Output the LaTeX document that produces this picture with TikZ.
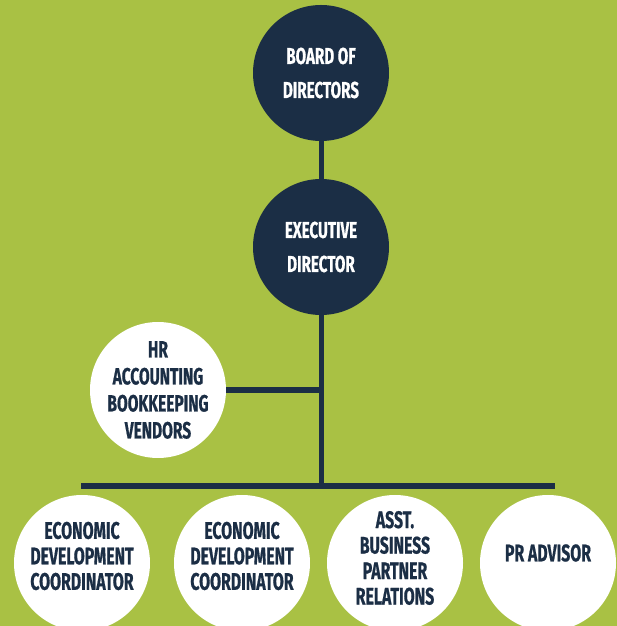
\documentclass[tikz,border=0pt]{standalone}
\usepackage{fontspec}
\usepackage{tikz}
\usetikzlibrary{positioning}
\newfontfamily\orgfont{Fira Sans}[FakeStretch=0.66,FakeBold=0.6]
\definecolor{navy}{HTML}{1B2E45}
\definecolor{leaf}{HTML}{A9C144}
\tikzset{
    boss/.style={
           circle,
           fill=navy,
           text=white,
           minimum size=136pt,
           inner sep=0pt,
           align=center,
           font=\orgfont\bfseries\fontsize{23}{34}\selectfont,
           },
    staff/.style={
           circle,
           fill=white,
           minimum size=136pt,
           inner sep=0pt,
           },
    staffname/.style={
           text=navy,
           align=center,
           inner sep=0pt,
           font=\orgfont\bfseries\fontsize{24}{25.5}\selectfont,
           },
    link/.style={
           draw=navy,
           line width=5pt,
           },
}

\begin{document}
\begin{tikzpicture}[x=1pt,y=1pt]
    % green page
    \fill[leaf] (0,0) rectangle (617,626);
    \useasboundingbox (0,0) rectangle (617,626);
    \clip (0,0) rectangle (617,626);

    % top of the chart
    \node[boss] (board) at (321,553) {BOARD OF\\DIRECTORS};

    \node[boss,         % layout (defined above)
    below of=board,
    node distance=174pt] (exec)
    {EXECUTIVE\\DIRECTOR};

    % side office
    \node[staff] (hr) at (158,236) {};
    \node[staffname,
    font=\orgfont\bfseries\fontsize{23.5}{27}\selectfont] (hr-txt) at (hr)
    {HR\\ACCOUNTING\\BOOKKEEPING\\VENDORS};

    % bottom row, cut off by the page edge
    \node[staff] (eco1) at (82,63) {};
    \node[staff, right of=eco1, node distance=160pt] (eco2) {};
    \node[staff, right of=eco2, node distance=153pt] (asst) {};
    \node[staff, right of=asst, node distance=153pt] (pr) {};

    \node[staffname] (eco1-txt) at ([yshift=7pt]eco1.center)
    {ECONOMIC\\DEVELOPMENT\\COORDINATOR};
    \node[staffname] (eco2-txt) at ([yshift=7pt]eco2.center)
    {ECONOMIC\\DEVELOPMENT\\COORDINATOR};
    \node[staffname] (asst-txt) at ([yshift=5pt]asst.center)
    {ASST.\\BUSINESS\\PARTNER\\RELATIONS};
    \node[staffname] (pr-txt) at ([yshift=10pt]pr.center)
    {PR ADVISOR};

    % the lines between them
    \coordinate (busL) at (81,140);
    \coordinate (busR) at (555,140);
    \coordinate (joint) at (exec |- busL);

    \draw[link] (board) -- (exec);
    \draw[link] (exec) -- (joint);
    \draw[link, line width=6pt] (hr) -- (exec |- hr);
    \draw[link, line width=6pt] (busL) -- (busR);
\end{tikzpicture}
\end{document}
